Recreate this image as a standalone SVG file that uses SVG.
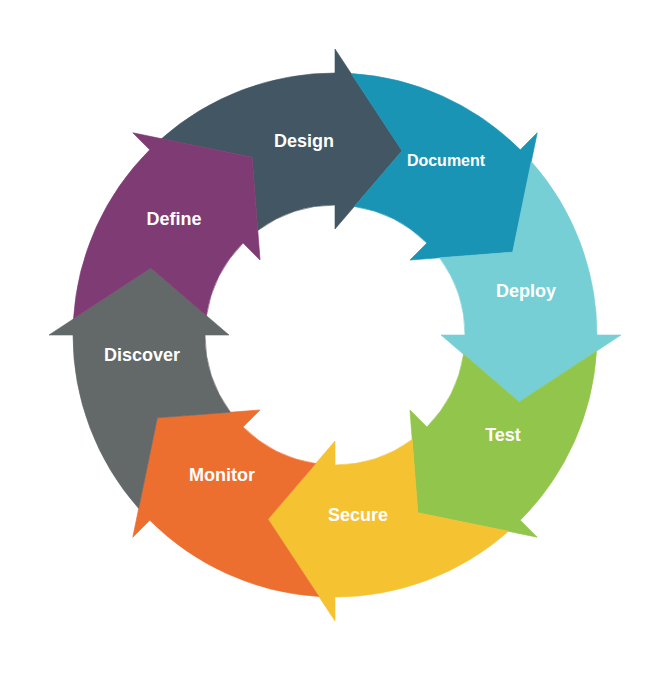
<svg xmlns="http://www.w3.org/2000/svg" xmlns:xlink="http://www.w3.org/1999/xlink" width="670" height="674" viewBox="0 0 670 674">
<style>
.lbl{font-family:"Liberation Sans",Arial,sans-serif;font-weight:bold;fill:#ffffff;text-anchor:middle}
.s18{font-size:18px}
.s16{font-size:16px}
.seg{stroke-width:0.6;stroke-linejoin:miter}
</style>
<defs>
<path id="seg" d="M196.32,-173.50 A262,262 0 0 1 262,0 L286,0 L184.18,67.04 L106,0 L130,0 A130,130 0 0 0 104.58,-77.22 L177.64,-82.83 Z"/>
</defs>
<rect x="0" y="0" width="670" height="674" fill="#ffffff"/>
<g id="connectors"></g>
<g id="design">
<use xlink:href="#seg" href="#seg" class="seg" transform="translate(335 335) rotate(-90)" fill="#435663" stroke="#435663"/>
<text class="lbl s18" x="304" y="147">Design</text>
</g>
<g id="document">
<use xlink:href="#seg" href="#seg" class="seg" transform="translate(335 335) rotate(-45)" fill="#1a94b4" stroke="#1a94b4"/>
<text class="lbl s16" x="446" y="166">Document</text>
</g>
<g id="deploy">
<use xlink:href="#seg" href="#seg" class="seg" transform="translate(335 335) rotate(0)" fill="#77cfd6" stroke="#77cfd6"/>
<text class="lbl s18" x="526" y="297">Deploy</text>
</g>
<g id="test">
<use xlink:href="#seg" href="#seg" class="seg" transform="translate(335 335) rotate(45)" fill="#92c54b" stroke="#92c54b"/>
<text class="lbl s18" x="503" y="441">Test</text>
</g>
<g id="secure">
<use xlink:href="#seg" href="#seg" class="seg" transform="translate(335 335) rotate(90)" fill="#f5c232" stroke="#f5c232"/>
<text class="lbl s18" x="358" y="521">Secure</text>
</g>
<g id="monitor">
<use xlink:href="#seg" href="#seg" class="seg" transform="translate(335 335) rotate(135)" fill="#ed6f30" stroke="#ed6f30"/>
<text class="lbl s18" x="222" y="481">Monitor</text>
</g>
<g id="discover">
<use xlink:href="#seg" href="#seg" class="seg" transform="translate(335 335) rotate(180)" fill="#636869" stroke="#636869"/>
<text class="lbl s18" x="142" y="361">Discover</text>
</g>
<g id="define">
<use xlink:href="#seg" href="#seg" class="seg" transform="translate(335 335) rotate(-135)" fill="#7f3c74" stroke="#7f3c74"/>
<text class="lbl s18" x="174" y="225">Define</text>
</g>
</svg>
